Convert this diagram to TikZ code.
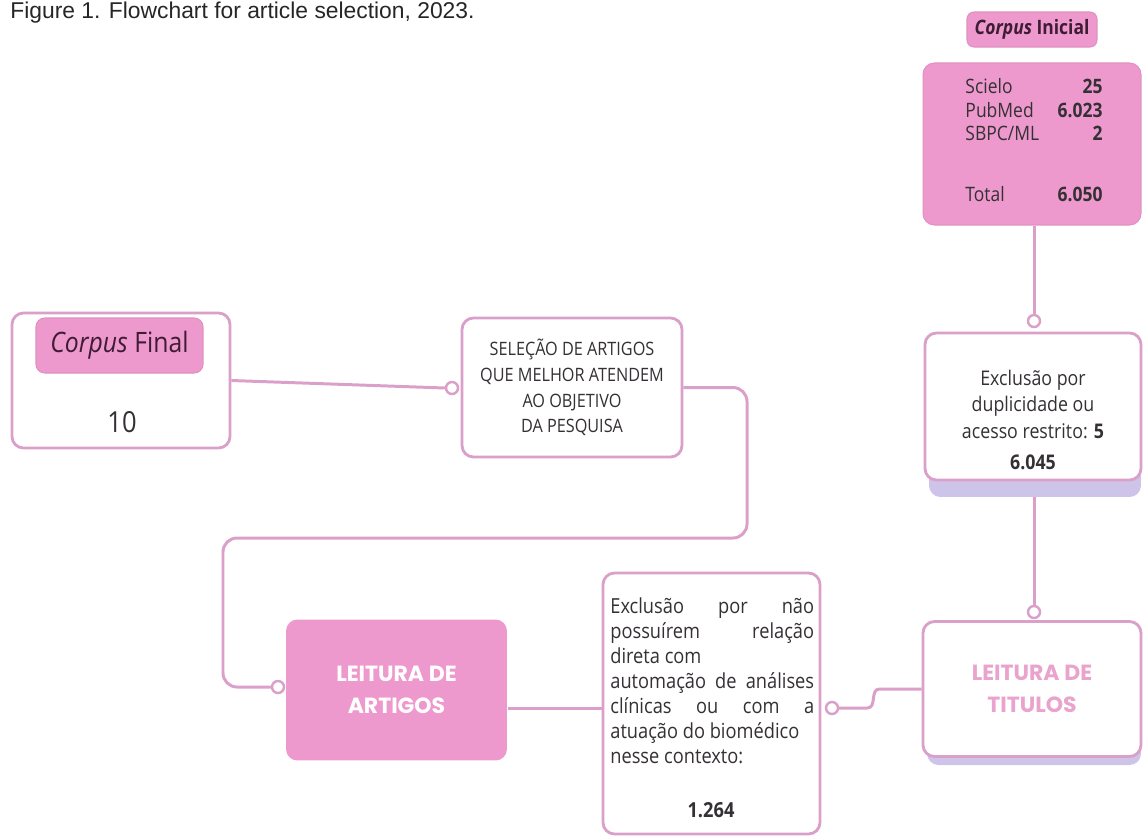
\documentclass[tikz,border=0pt]{standalone}
\usepackage{fontspec}
\setmainfont{Open Sans}[FakeStretch=0.88]
\newfontfamily\headfont{Poppins}
\newfontfamily\capfont{Liberation Sans}
\usetikzlibrary{positioning, calc}
\definecolor{pinkfill}{RGB}{238,153,205}
\definecolor{pinkline}{RGB}{219,160,201}
\definecolor{shade}{RGB}{206,196,234}
\definecolor{bodytxt}{RGB}{52,48,52}
\definecolor{lbltxt}{RGB}{62,28,52}
\definecolor{softpink}{RGB}{233,163,205}
\tikzstyle{card} = [rectangle, rounded corners=6.5pt, draw=pinkline, line width=1.6pt, fill=white, text=bodytxt, align=center]
\tikzstyle{pinkcard} = [rectangle, rounded corners=6.5pt, draw=pinkfill!94!black, line width=0.6pt, fill=pinkfill, align=center]
\tikzstyle{shadowbox} = [rectangle, rounded corners=6.5pt, fill=shade]
\tikzstyle{joint} = [circle, draw=pinkline, line width=1.4pt, fill=white, inner sep=0pt, minimum size=0.24cm]
\tikzstyle{link} = [pinkline, line width=1.7pt]
\begin{document}
\begin{tikzpicture}[x=0.02cm, y=-0.02cm]
	\useasboundingbox (0,0) rectangle (1143,836);

	% Caption
	\node (caption) [anchor=base west, inner sep=0pt, font=\capfont\fontsize{13}{15}\selectfont, text=black!85] at (10,18) {Figure 1. Flowchart for article selection, 2023.};

	% Corpus inicial
	\node (corpus_ini_lbl) [pinkcard, rounded corners=4pt, minimum width=2.6cm, minimum height=0.7cm, text=lbltxt, font=\bfseries\fontsize{11.3}{13}\selectfont] at (1032,29.5) {\textit{Corpus} Inicial};
	\node (corpus_ini) [pinkcard, minimum width=4.36cm, minimum height=3.24cm] at (1032,144) {};
	\node (ini_list) [text width=78pt, align=left, inner sep=0pt, text=bodytxt, font=\fontsize{11.3}{13.6}\selectfont] at (1034,140) {Scielo\hfill\textbf{25}\\PubMed\hfill\textbf{6.023}\\SBPC/ML\hfill\textbf{2}\\[21pt]Total\hfill\textbf{6.050}};

	% Exclusion by duplicates
	\node (dup_shadow) [shadowbox, minimum width=4.24cm, minimum height=3.04cm] at (1035,421) {};
	\node (dup) [card, minimum width=4.32cm, minimum height=2.94cm] at (1033,406.5) {};
	\node (dup_text) [align=center, inner sep=0pt, text=bodytxt, font=\fontsize{11.5}{15}\selectfont] at (1033,420) {Exclusão por\\duplicidade ou\\acesso restrito: \textbf{5}\\[3pt]\textbf{6.045}};

	% Title reading
	\node (tit_shadow) [shadowbox, minimum width=4.28cm, minimum height=2.7cm] at (1034,697.5) {};
	\node (tit) [card, minimum width=4.36cm, minimum height=2.7cm, text=softpink, font=\headfont\bfseries\fontsize{12.5}{18}\selectfont] at (1032,689) {LEITURA DE\\TITULOS};

	% Exclusion by relevance
	\node (ex2) [card, minimum width=4.34cm, minimum height=5.22cm] at (711.5,703.5) {};
	\node (ex2_text) [anchor=north west, text width=116pt, align=justify, inner sep=0pt, text=bodytxt, font=\fontsize{11.8}{14.3}\selectfont] at (610,597) {Exclusão por não\linebreak possuírem relação\linebreak direta com\\automação de análises\linebreak clínicas ou com a\linebreak atuação do biomédico\\nesse contexto:};
	\node (ex2_total) [inner sep=0pt, text=bodytxt, font=\bfseries\fontsize{11.8}{13}\selectfont] at (711,810) {1.264};

	% Article reading
	\node (artigos) [pinkcard, draw=none, minimum width=4.42cm, minimum height=2.82cm, text=white, font=\headfont\bfseries\fontsize{12.5}{18}\selectfont] at (396.5,690) {LEITURA DE\\ARTIGOS};

	% Selection
	\node (sel) [card, minimum width=4.4cm, minimum height=2.78cm, font=\fontsize{10.5}{14.7}\selectfont] at (572,387.5) {SELEÇÃO DE ARTIGOS\\QUE MELHOR ATENDEM\\AO OBJETIVO\\DA PESQUISA};

	% Corpus final
	\node (cfin) [card, minimum width=4.36cm, minimum height=2.7cm] at (121,380.5) {};
	\node (cfin_lbl) [pinkcard, rounded corners=5pt, minimum width=3.34cm, minimum height=1.1cm, text=lbltxt, font=\fontsize{16}{18}\selectfont] at (119.5,345.5) {\textit{Corpus} Final};
	\node (cfin_num) [inner sep=0pt, text=bodytxt, font=\fontsize{16.5}{18}\selectfont] at (122,422) {10};

	% Joints
	\node (c1) [joint] at (1034,321) {};
	\node (c2) [joint] at (1034,612) {};
	\node (c3) [joint] at (832,708) {};
	\node (c4) [joint] at (278,687) {};
	\node (c5) [joint] at (452,388) {};
	\coordinate (bend_r) at (747,538);
	\coordinate (bend_l) at (223,538);

	% Links
	\draw[link] (c1|-corpus_ini.south) -- (c1.north);
	\draw[link] (c2|-dup_shadow.south) -- (c2.north);
	\draw[link] (tit.west) -- ($(tit.west)+(-42,0)$) .. controls +(-10,0) and +(10,0) .. ($(c3.east)+(28,0)$) -- (c3.east);
	\draw[link] (ex2.west|-c3) -- (artigos.east|-c3);
	\draw[link, rounded corners=8pt] (sel.east) -| (bend_r) -- (bend_l) |- (c4.west);
	\draw[link] (cfin.east) -- (c5.west);

\end{tikzpicture}
\end{document}
